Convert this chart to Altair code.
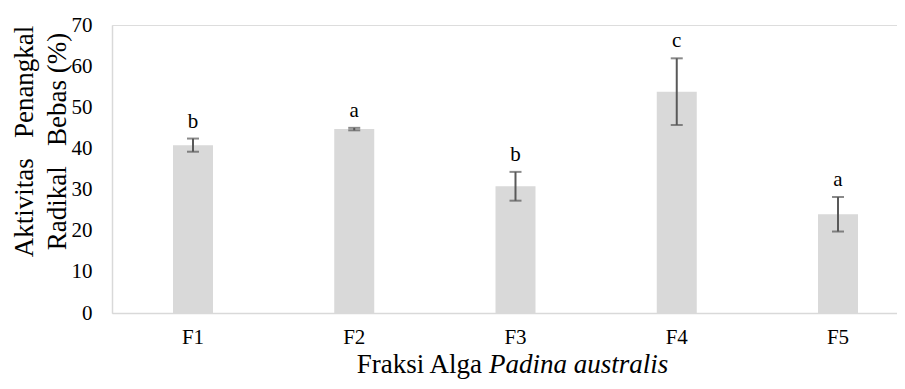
import altair as alt
import pandas as pd

fractions = ["F1", "F2", "F3", "F4", "F5"]
activity = [40.8, 44.7, 30.8, 53.8, 24.0]
error = [1.6, 0.3, 3.5, 8.1, 4.2]
letters = ["b", "a", "b", "c", "a"]
y_ticks = [0, 10, 20, 30, 40, 50, 60, 70]

df = pd.DataFrame({"fraksi": fractions, "aktivitas": activity, "err": error, "huruf": letters})
df["lower"] = df["aktivitas"] - df["err"]
df["upper"] = df["aktivitas"] + df["err"]

FONT = "Liberation Serif"

x_enc = alt.X(
    "fraksi:N",
    sort=fractions,
    scale=alt.Scale(paddingInner=0.752, paddingOuter=0.31, align=0.61),
    axis=alt.Axis(
        title=None, labelAngle=0, ticks=False, labelFont=FONT, labelFontSize=21,
        labelColor="black", labelPadding=13, domainColor="#d9d9d9", domainWidth=1.5,
    ),
)

y_scale = alt.Scale(domain=[0, 70], nice=False)

bars = alt.Chart(df).mark_bar(color="#d9d9d9").encode(
    x=x_enc,
    y=alt.Y(
        "aktivitas:Q",
        scale=y_scale,
        axis=alt.Axis(
            values=y_ticks, grid=False, ticks=False, labelFont=FONT, labelFontSize=21,
            labelColor="black", labelPadding=20, domainColor="#d9d9d9", domainWidth=1.5,
            title=["Aktivitas\u00a0\u00a0\u00a0Penangkal", "Radikal\u00a0\u00a0\u00a0Bebas (%)"],
            titleFont=FONT, titleFontSize=27, titleFontWeight="normal", titleColor="black",
            titleAngle=-90, titleAlign="center", titleBaseline="alphabetic",
            titleX=-80, titleY=116, titleLineHeight=33,
        ),
    ),
)

rules = alt.Chart(df).mark_rule(color="#595959", strokeWidth=2).encode(
    x=alt.X("fraksi:N", sort=fractions),
    y=alt.Y("lower:Q", scale=y_scale),
    y2="upper:Q",
)

caps_low = alt.Chart(df).mark_tick(color="#595959", size=12, thickness=2, orient="horizontal").encode(
    x=alt.X("fraksi:N", sort=fractions),
    y=alt.Y("lower:Q", scale=y_scale),
)
caps_high = alt.Chart(df).mark_tick(color="#595959", size=12, thickness=2, orient="horizontal").encode(
    x=alt.X("fraksi:N", sort=fractions),
    y=alt.Y("upper:Q", scale=y_scale),
)

labels = alt.Chart(df).mark_text(font=FONT, fontSize=21, color="black", dy=-11, baseline="alphabetic").encode(
    x=alt.X("fraksi:N", sort=fractions),
    y=alt.Y("upper:Q", scale=y_scale),
    text="huruf:N",
)

title_title = pd.DataFrame({"t": ["Fraksi Alga"]})
title_normal = alt.Chart(title_title).mark_text(
    font=FONT, fontSize=27, color="black", align="right", baseline="alphabetic"
).encode(x=alt.value(370), y=alt.value(348), text="t:N")

title_italic_df = pd.DataFrame({"t": ["Padina australis"]})
title_italic = alt.Chart(title_italic_df).mark_text(
    font=FONT, fontSize=27, fontStyle="italic", color="black", align="left", baseline="alphabetic"
).encode(x=alt.value(377), y=alt.value(348), text="t:N")

chart = alt.layer(bars, rules, caps_low, caps_high, labels, title_normal, title_italic).properties(
    width=785, height=288,
    autosize=alt.AutoSizeParams(type="none"),
    padding={"left": 104, "top": 17, "right": 0, "bottom": 68},
).configure_view(stroke=None).configure(background="white")

chart.save("out.html", embed_options={"renderer": "svg", "actions": False})
